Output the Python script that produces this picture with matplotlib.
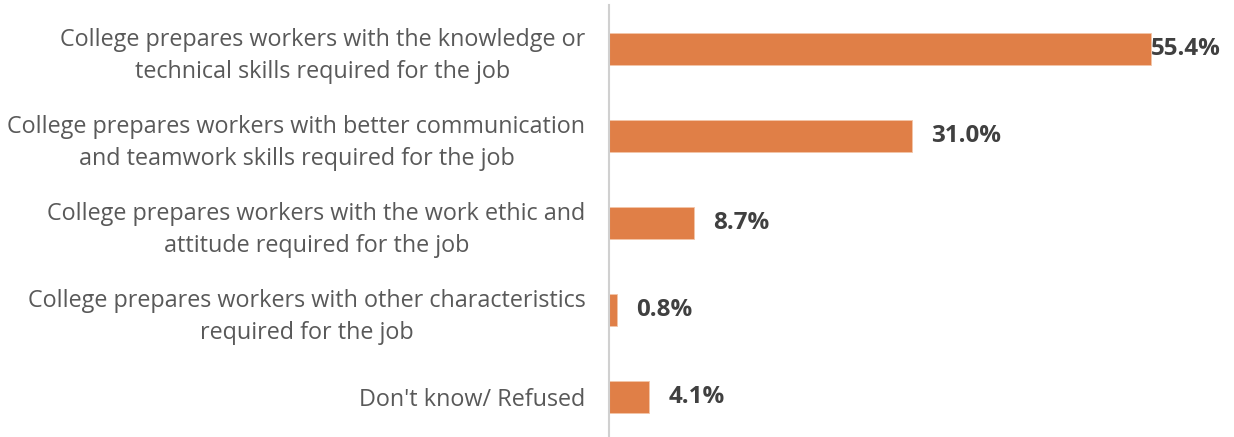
import matplotlib.pyplot as plt

plt.rcParams['font.family'] = ['Open Sans', 'DejaVu Sans']

labels = [
    "College prepares workers with the knowledge or\ntechnical skills required for the job",
    "College prepares workers with better communication\nand teamwork skills required for the job",
    "College prepares workers with the work ethic and\nattitude required for the job",
    "College prepares workers with other characteristics\nrequired for the job",
    "Don't know/ Refused",
]
values = [55.4, 31.0, 8.7, 0.8, 4.1]

bar_color = '#E07F47'
xmax = 63

fig = plt.figure(figsize=(12.34, 4.37), dpi=100)
ax = fig.add_axes([609 / 1234, 0, (1225 - 609) / 1234, 432 / 437])

ypos = list(range(len(values)))
ax.barh(ypos, values, height=0.36, color=bar_color, edgecolor='#F3C6A8', linewidth=0.6)
ax.set_ylim(4.46, -0.506)
ax.set_xlim(0, xmax)

for y, v in zip(ypos, values):
    # the longest bar has no room to the right, so its label sits flush on the end
    off = 0 if v > 50 else 14
    ax.annotate(f"{v:.1f}%", (v, y), xytext=(off, 0), textcoords='offset points',
                va='center', ha='left', fontsize=17.4, fontweight='bold', color='#404040')

ax.set_yticks(ypos)
ax.set_yticklabels(labels, fontsize=16.8, color='#595959', ha='right',
                   multialignment='center', linespacing=1.45)
ax.tick_params(axis='y', length=0, pad=17)
ax.set_xticks([])

for side in ['top', 'right', 'bottom']:
    ax.spines[side].set_visible(False)
ax.spines['left'].set_color('#D0D0D0')
ax.spines['left'].set_linewidth(1.5)

fig.savefig('out.png', dpi=100)
